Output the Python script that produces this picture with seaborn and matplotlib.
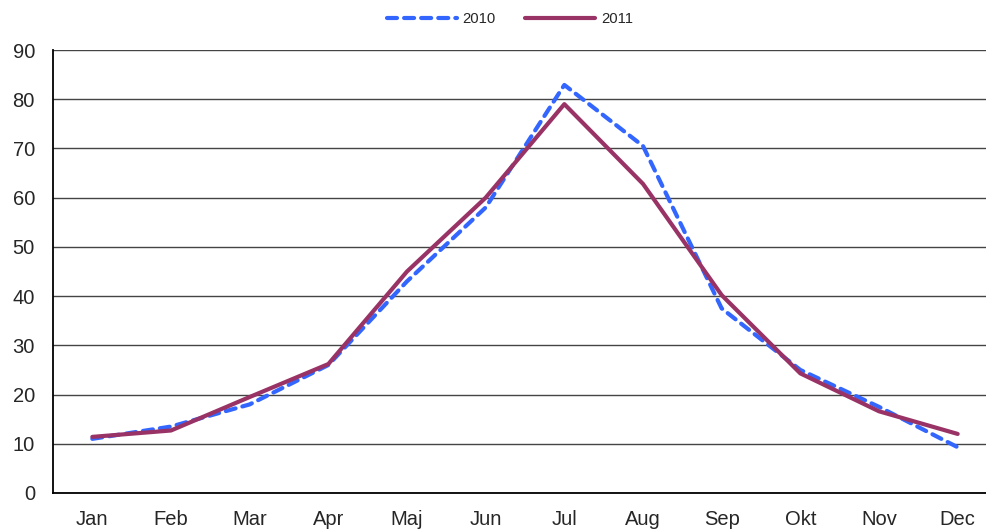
import pandas as pd
import matplotlib
matplotlib.use('Agg')
import matplotlib.pyplot as plt
import seaborn as sns

# Data
months = ['Jan', 'Feb', 'Mar', 'Apr', 'Maj', 'Jun', 'Jul', 'Aug', 'Sep', 'Okt', 'Nov', 'Dec']
values_2010 = [11.0, 13.5, 18.0, 26.0, 43.0, 58.0, 82.9, 70.5, 37.5, 25.0, 17.5, 9.3]
values_2011 = [11.4, 12.7, 19.5, 26.2, 45.0, 60.0, 79.0, 62.8, 40.2, 24.3, 16.6, 12.0]
years = ['2010', '2011']

df = pd.DataFrame({
    'month': list(range(12)) * 2,
    'value': values_2010 + values_2011,
    'year': [years[0]] * 12 + [years[1]] * 12,
})

sns.set_style('white')
plt.rcParams['font.family'] = ['Liberation Sans', 'DejaVu Sans']

fig = plt.figure(figsize=(9.86, 5.30), dpi=100)
ax = fig.add_axes([53 / 986, 37 / 530, 944 / 986, 443 / 530])

sns.lineplot(data=df, x='month', y='value', hue='year', style='year',
             palette={'2010': '#3366FF', '2011': '#993366'},
             dashes={'2010': (2.4, 1.7), '2011': ''},
             linewidth=3.0, ax=ax, legend=True)
for line in ax.get_lines():
    line.set_dash_capstyle('round')

ax.set_xlim(-0.5, 11.5)
ax.set_ylim(0, 90)
ax.set_yticks(range(0, 91, 10))
ax.set_xticks(range(12))
ax.set_xticklabels(months)
ax.set_xticks([i - 0.5 for i in range(13)], minor=True)
ax.tick_params(axis='x', which='major', length=0, pad=12.5, labelsize=14.5)
ax.tick_params(axis='x', which='minor', length=5, width=1, direction='out', color='black')
ax.tick_params(axis='y', length=5, width=1, direction='out', color='black', labelsize=14.5, pad=8)
ax.yaxis.grid(True, color='#444444', linewidth=1)
ax.set_axisbelow(True)
ax.set_xlabel('')
ax.set_ylabel('')
for s in ['top', 'right']:
    ax.spines[s].set_visible(False)
for s in ['left', 'bottom']:
    ax.spines[s].set_color('black')
    ax.spines[s].set_linewidth(1.3)

handles, labels = ax.get_legend_handles_labels()
for h in handles:
    h.set_dash_capstyle('round')
ax.legend_.remove()
fig.legend(handles, labels, loc='center', bbox_to_anchor=(510 / 986, 1 - 19 / 530),
           ncol=2, frameon=False, fontsize=10.7, handlelength=4.7,
           columnspacing=2.0, handletextpad=0.4, borderpad=0)

fig.savefig('out.png', dpi=100)
